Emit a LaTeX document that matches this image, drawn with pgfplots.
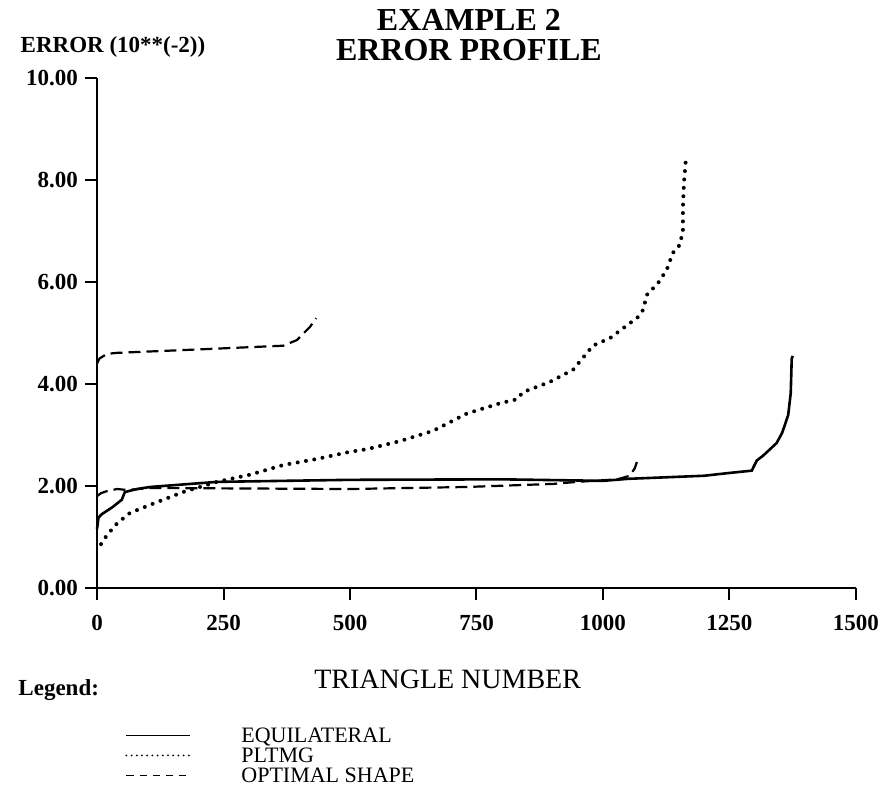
\documentclass[border=0pt]{standalone}
\usepackage{fontspec}
\setmainfont{Liberation Serif}
\usepackage{pgfplots}
\pgfplotsset{compat=1.18}
\begin{document}
\begin{tikzpicture}
\begin{axis}[
  scale only axis, width=379.5pt, height=255pt,
  xmin=0, xmax=1500, ymin=0, ymax=10,
  axis lines*=left,
  axis line style={line width=1.2pt},
  tick align=outside, major tick length=6pt,
  tick style={line width=1pt, black},
  xtick={0,250,...,1500}, ytick={0,2,...,10},
  scaled ticks=false,
  /pgf/number format/assume math mode=true,
  /pgf/number format/1000 sep={},
  y tick label style={/pgf/number format/.cd, fixed, fixed zerofill, precision=2},
  tick label style={font=\fontsize{11.5}{13}\selectfont\bfseries},
  x tick label style={yshift=-4pt},
  clip=false,
  legend cell align=left,
  legend image code/.code={\draw[#1] (0pt,0pt) -- (32pt,0pt);},
  legend style={at={(0.0369,-0.274)}, anchor=north west, draw=none, fill=none,
    inner sep=0pt, column sep=25pt, row sep=2.6pt,
    nodes={inner sep=0pt, text height=7.4pt, text depth=0pt},
    font=\fontsize{11}{12}\selectfont},
]
% equilateral
\addplot[black, line width=1.3pt,
  legend image code/.code={\draw[black, line width=0.9pt] (0pt,0pt) -- (32pt,0pt);}] coordinates {
  (0,1.15) (3,1.38) (10,1.45) (30,1.58) (49,1.73) (55,1.88) (79,1.94)
  (105,1.98) (237,2.08) (500,2.12) (800,2.13) (1000,2.10) (1050,2.14)
  (1200,2.20) (1245,2.25) (1294,2.30) (1304,2.50) (1316,2.59) (1343,2.84)
  (1354,3.04) (1366,3.39) (1371,3.82) (1373,4.50) (1375,4.55)
};
% pltmg
\addplot[black, line width=2pt, line cap=round, dash pattern=on 0pt off 4.2pt,
  legend image code/.code={\draw[black, line width=1pt, line cap=round, dash pattern=on 0pt off 2.6pt] (0pt,0pt) -- (32pt,0pt);}] coordinates {
  (8,0.86) (20,1.04) (40,1.27) (65,1.47) (105,1.63) (170,1.88) (237,2.08)
  (302,2.22) (368,2.41) (435,2.53) (500,2.67) (533,2.72) (599,2.88)
  (664,3.08) (731,3.42) (796,3.62) (830,3.70) (842,3.84) (895,4.04)
  (941,4.28) (980,4.75) (1014,4.90) (1069,5.31) (1079,5.45) (1087,5.75)
  (1109,5.98) (1126,6.24) (1138,6.57) (1152,6.73) (1158,7.02) (1158,7.47)
  (1160,7.94) (1164,8.43)
};
% optimal shape
\addplot[black, line width=1.1pt, dash pattern=on 6pt off 3pt,
  legend image code/.code={\draw[black, line width=0.9pt, dash pattern=on 3.6pt off 3pt] (0pt,0pt) -- (32pt,0pt);}] coordinates {
  (0,1.80) (8,1.86) (20,1.90) (40,1.94) (60,1.92) (105,1.96) (300,1.95)
  (500,1.94) (731,1.98) (901,2.04) (949,2.08) (1028,2.13) (1053,2.20)
  (1063,2.35) (1067,2.47)
};
\addplot[black, line width=1.1pt, dash pattern=on 6pt off 3pt, forget plot] coordinates {
  (0,4.40) (5,4.50) (20,4.59) (40,4.61) (184,4.67) (368,4.75) (395,4.86)
  (421,5.12) (433,5.29)
};
\legend{EQUILATERAL, PLTMG, OPTIMAL SHAPE}

\node[align=center, font=\fontsize{16}{15}\selectfont\bfseries]
  at (rel axis cs:0.49,1.084) {EXAMPLE 2\\ERROR PROFILE};
\node[anchor=west, inner sep=0pt, font=\fontsize{11.5}{13}\selectfont\bfseries]
  at (rel axis cs:-0.101,1.061) {ERROR (10**(-2))};
\node[font=\fontsize{14}{16}\selectfont] at (rel axis cs:0.462,-0.18) {TRIANGLE NUMBER};
\node[anchor=west, inner sep=0pt, font=\fontsize{11.5}{13}\selectfont\bfseries]
  at (rel axis cs:-0.104,-0.20) {Legend:};
\path (rel axis cs:-0.1278,1.1529) rectangle (rel axis cs:1.0435,-0.4275);
\end{axis}
\end{tikzpicture}
\end{document}
